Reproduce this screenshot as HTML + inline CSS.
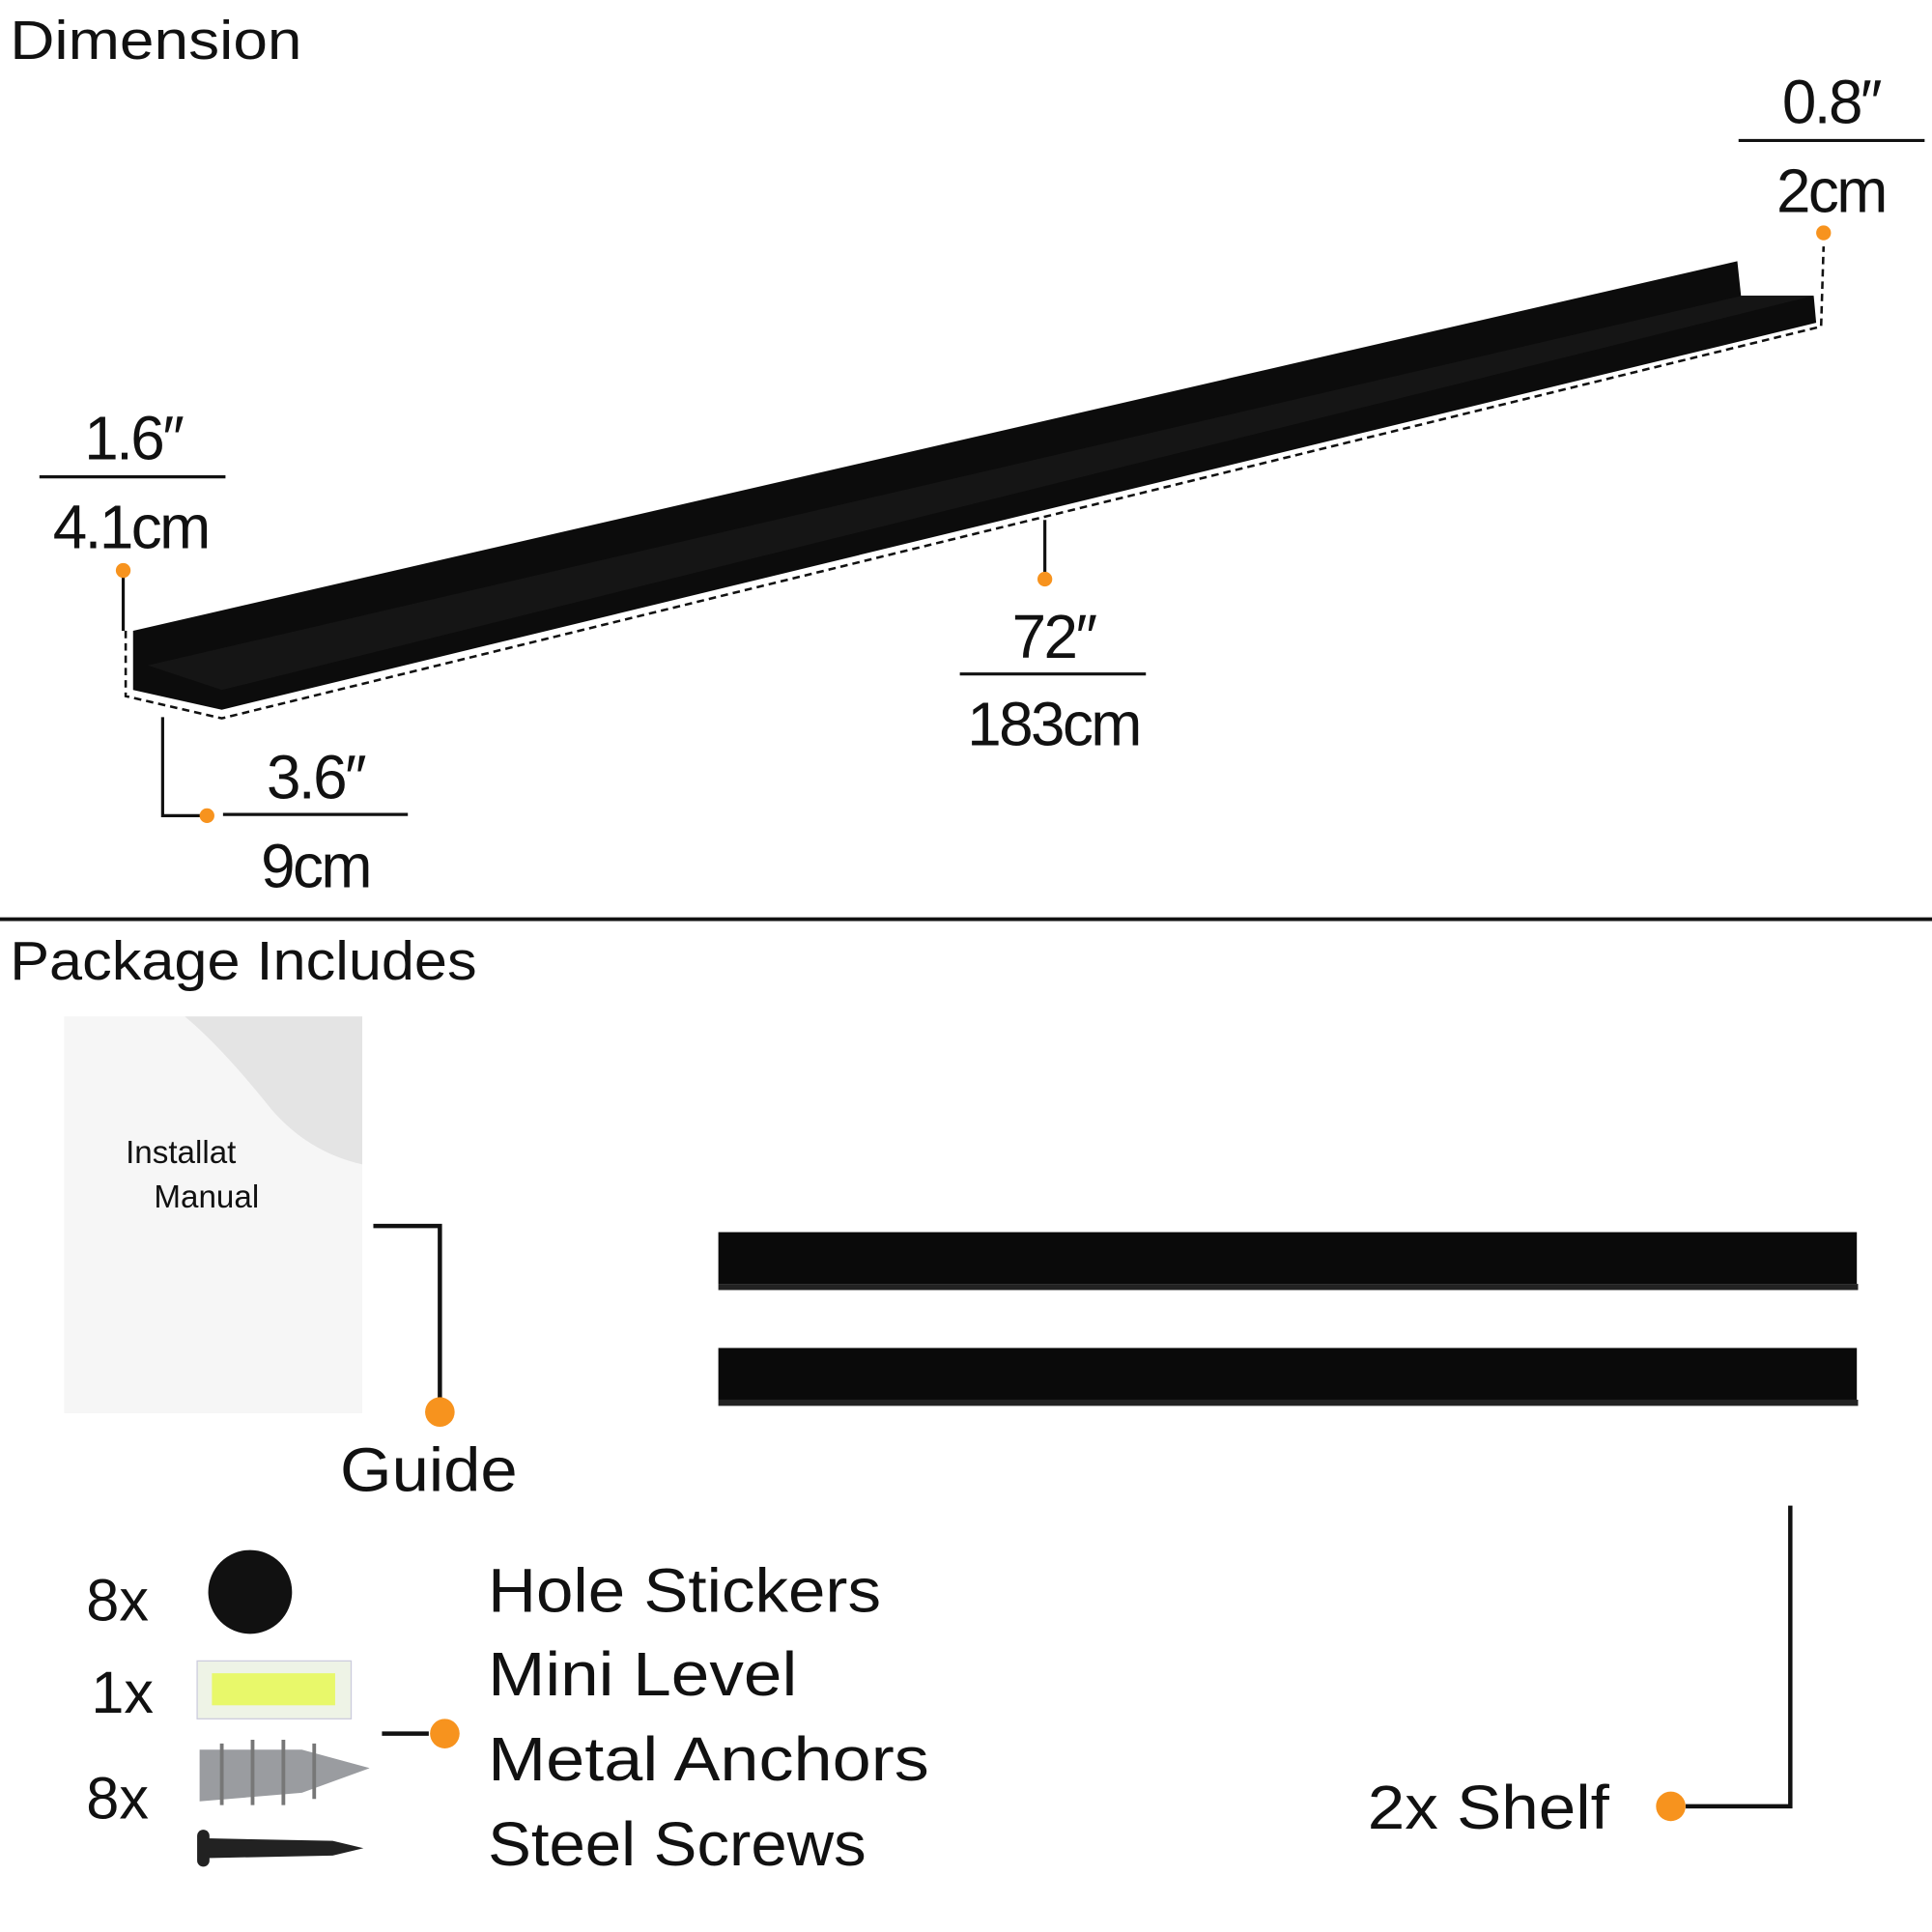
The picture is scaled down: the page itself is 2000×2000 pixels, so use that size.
<!DOCTYPE html>
<html><head><style>
html,body{margin:0;padding:0;background:#fff;}
svg{display:block}
text{font-family:"Liberation Sans",sans-serif;fill:#111;}
</style></head><body>
<svg width="2000" height="2000" viewBox="0 0 1568 1568" xmlns="http://www.w3.org/2000/svg">
<rect width="1568" height="1568" fill="#fff"/>
<text x="8" y="48" font-size="44" textLength="237" lengthAdjust="spacingAndGlyphs">Dimension</text>
<!-- shelf -->
<polygon points="108,512 1410,212 1413,240 1472,240 1474,262 180,576 108,560" fill="#0c0c0c"/>
<polygon points="120,540 1414,240 1472,240 180,560" fill="#151515"/>
<g fill="none" stroke="#111" stroke-width="2" stroke-dasharray="6,4">
<polyline points="102,512 102,565 180,583 1478,265 1480,200"/>
</g>
<g stroke="#111" stroke-width="2.5" fill="none">
<line x1="100" y1="463" x2="100" y2="512"/>
<polyline points="132,582 132,662 168,662"/>
<line x1="848" y1="422" x2="848" y2="468"/>
<line x1="32" y1="387" x2="183" y2="387"/>
<line x1="181" y1="661" x2="331" y2="661"/>
<line x1="779" y1="547" x2="930" y2="547"/>
<line x1="1411" y1="114" x2="1562" y2="114"/>
</g>
<g fill="#f7931e">
<circle cx="100" cy="463" r="6"/><circle cx="168" cy="662" r="6"/>
<circle cx="848" cy="470" r="6"/><circle cx="1480" cy="189" r="6"/>
</g>
<g font-size="50" text-anchor="middle" letter-spacing="-2">
<text x="108" y="373">1.6″</text><text x="106" y="445">4.1cm</text>
<text x="256" y="648">3.6″</text><text x="256" y="720">9cm</text>
<text x="855" y="534">72″</text><text x="855" y="605">183cm</text>
<text x="1486" y="100">0.8″</text><text x="1486" y="172">2cm</text>
</g>
<line x1="0" y1="746" x2="1568" y2="746" stroke="#111" stroke-width="3"/>
<text x="8" y="795" font-size="44" textLength="379" lengthAdjust="spacingAndGlyphs">Package Includes</text>
<!-- manual -->
<rect x="52" y="825" width="242" height="322" fill="#f6f6f6"/>
<path d="M150,825 L294,825 L294,945 Q250,935 220,900 Q180,850 150,825 Z" fill="#e4e4e4"/>
<text x="102" y="944" font-size="26">Installat</text>
<text x="125" y="980" font-size="26">Manual</text>
<polyline points="303,995 357,995 357,1140" fill="none" stroke="#111" stroke-width="3.5"/>
<circle cx="357" cy="1146" r="12" fill="#f7931e"/>
<text x="276" y="1210" font-size="50" textLength="144" lengthAdjust="spacingAndGlyphs">Guide</text>
<!-- shelves -->
<rect x="583" y="1000" width="924" height="42" fill="#0a0a0a"/>
<rect x="583" y="1042" width="925" height="5" fill="#222"/>
<rect x="583" y="1094" width="924" height="42" fill="#0a0a0a"/>
<rect x="583" y="1136" width="925" height="5" fill="#222"/>
<polyline points="1453,1222 1453,1466 1368,1466" fill="none" stroke="#111" stroke-width="3.5"/>
<circle cx="1356" cy="1466" r="12" fill="#f7931e"/>
<text x="1110" y="1484" font-size="50" textLength="196" lengthAdjust="spacingAndGlyphs">2x Shelf</text>
<!-- hardware -->
<g font-size="48"><text x="70" y="1315">8x</text><text x="74" y="1390">1x</text><text x="70" y="1476">8x</text></g>
<circle cx="203" cy="1292" r="34" fill="#111"/>
<rect x="160" y="1348" width="125" height="47" fill="#eef3e6" stroke="#ccd" stroke-width="1"/>
<rect x="172" y="1358" width="100" height="26" fill="#e8f86a"/>
<polygon points="162,1420 245,1420 300,1435 245,1455 162,1462" fill="#9a9ca0"/>
<g stroke="#777" stroke-width="3"><line x1="180" y1="1415" x2="180" y2="1465"/><line x1="205" y1="1412" x2="205" y2="1465"/><line x1="230" y1="1412" x2="230" y2="1465"/><line x1="255" y1="1415" x2="255" y2="1460"/></g>
<rect x="160" y="1485" width="10" height="30" rx="5" fill="#222"/>
<polygon points="168,1492 270,1494 295,1500 270,1506 168,1508" fill="#222"/>
<line x1="310" y1="1407" x2="348" y2="1407" stroke="#111" stroke-width="3.5"/>
<circle cx="361" cy="1407" r="12" fill="#f7931e"/>
<g font-size="50" lengthAdjust="spacingAndGlyphs">
<text x="396" y="1308" textLength="319" lengthAdjust="spacingAndGlyphs">Hole Stickers</text>
<text x="396" y="1376" textLength="251" lengthAdjust="spacingAndGlyphs">Mini Level</text>
<text x="396" y="1445" textLength="358" lengthAdjust="spacingAndGlyphs">Metal Anchors</text>
<text x="396" y="1514" textLength="307" lengthAdjust="spacingAndGlyphs">Steel Screws</text></g>
</svg>
</body></html>
